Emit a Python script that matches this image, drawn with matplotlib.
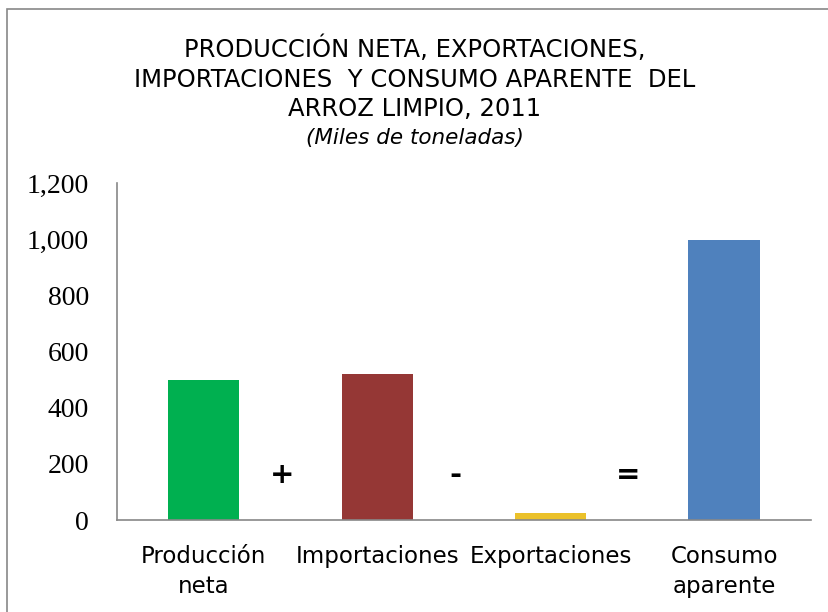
import matplotlib
matplotlib.use("Agg")
import matplotlib.pyplot as plt
from matplotlib.patches import Rectangle

categories = ["Producción\nneta", "Importaciones", "Exportaciones", "Consumo\naparente"]
values = [500, 522, 25, 997]
colors = ["#00B050", "#953735", "#EBC12A", "#4F81BD"]
operators = ["+", "-", "="]
yticks = [0, 200, 400, 600, 800, 1000, 1200]
ytick_labels = ["0", "200", "400", "600", "800", "1,000", "1,200"]

fig = plt.figure(figsize=(8.29, 6.12), dpi=100)
fig.patch.set_facecolor("white")
fig.patches.append(Rectangle((0.009, -0.01), 1.5, 0.996, transform=fig.transFigure,
                             fill=False, edgecolor="#888888", linewidth=1.2))

ax = fig.add_axes([0.141, 0.150, 0.837, 0.551])
x = list(range(len(categories)))
ax.bar(x, values, width=0.41, color=colors)
ax.set_xlim(-0.5, 3.5)
ax.set_ylim(0, 1200)
ax.set_yticks(yticks)
ax.set_yticklabels(ytick_labels, family="Liberation Serif", fontsize=20)
ax.set_xticks(x)
ax.set_xticklabels(categories, family="DejaVu Sans", fontsize=16.5, linespacing=1.37)
ax.tick_params(axis="y", length=0, pad=20)
ax.tick_params(axis="x", length=0, pad=18)
for s in ["top", "right"]:
    ax.spines[s].set_visible(False)
for s in ["left", "bottom"]:
    ax.spines[s].set_color("#888888")
    ax.spines[s].set_linewidth(1.2)

for i, op in enumerate(operators):
    ax.text(i + 0.45, 160, op, ha="center", va="center", fontsize=21,
            fontweight="bold", family="DejaVu Sans")

fig.text(0.5, 0.872, "PRODUCCIÓN NETA, EXPORTACIONES,\nIMPORTACIONES  Y CONSUMO APARENTE  DEL\nARROZ LIMPIO, 2011",
         ha="center", va="center", fontsize=17.5, family="DejaVu Sans",
         linespacing=1.29)
fig.text(0.5, 0.774, "(Miles de toneladas)", ha="center", va="center", fontsize=15.5,
         style="italic", family="DejaVu Sans")

fig.savefig("out.png", dpi=100, facecolor="white")
